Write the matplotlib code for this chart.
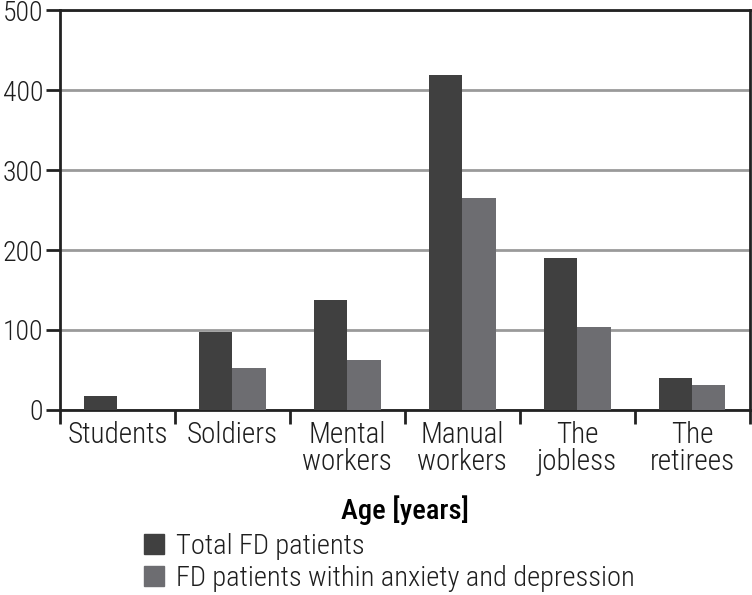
import numpy as np
import matplotlib.pyplot as plt
from matplotlib.patches import Patch

categories = ['Students', 'Soldiers', 'Mental\nworkers', 'Manual\nworkers', 'The\njobless', 'The\nretirees']
total_fd = [18, 98, 138, 419, 190, 40]
fd_anxiety = [0, 53, 62, 265, 104, 31]
legend_labels = ['Total FD patients', 'FD patients within anxiety and depression']

plt.rcParams['font.family'] = ['Roboto Condensed', 'Lato', 'DejaVu Sans']
plt.rcParams['font.weight'] = 'light'
plt.rcParams['text.color'] = '#1e1e1e'
plt.rcParams['xtick.color'] = '#1e1e1e'
plt.rcParams['ytick.color'] = '#1e1e1e'

dark = '#404040'
grey = '#6d6d71'

fig = plt.figure(figsize=(7.52, 5.95), dpi=100)
ax = fig.add_axes([0.0798, 0.311, 0.917, 0.672])

x = np.arange(len(categories))
w = 0.29
ax.bar(x - w / 2, total_fd, width=w, color=dark, zorder=3)
ax.bar(x + w / 2, fd_anxiety, width=w, color=grey, zorder=3)

ax.set_xlim(-0.5, len(categories) - 0.5)
ax.set_ylim(0, 500)
ax.set_yticks([0, 100, 200, 300, 400, 500])
ax.yaxis.grid(True, color='#9a9a9a', linewidth=2, zorder=0)

# boundaries get the tick marks, centres get the labels
ax.set_xticks(np.arange(len(categories) + 1) - 0.5)
ax.set_xticklabels([])
ax.set_xticks(x, minor=True)
ax.set_xticklabels(categories, minor=True, fontsize=21, linespacing=0.95)
ax.tick_params(axis='x', which='minor', length=0, pad=8)
ax.tick_params(axis='x', which='major', length=10, width=2, color='#222222', direction='out')
ax.tick_params(axis='y', length=10, width=2, color='#222222', labelsize=20, pad=2)

for s in ax.spines.values():
    s.set_linewidth(2)
    s.set_color('#222222')

ax.set_xlabel('Age [years]', fontsize=20.5, fontweight='medium', labelpad=14)

handles = [Patch(color=dark), Patch(color=grey)]
fig.legend(handles, legend_labels, loc='upper left', bbox_to_anchor=(0.176, 0.124),
           frameon=False, fontsize=20.5, handlelength=0.7, handleheight=0.7,
           handletextpad=0.45, labelspacing=0.2, borderaxespad=0)

fig.savefig('out.png', dpi=100)
